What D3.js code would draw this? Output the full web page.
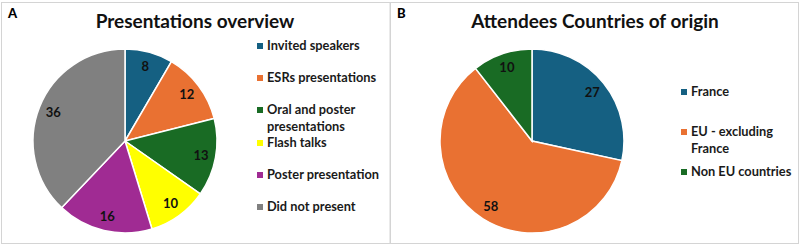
<!DOCTYPE html>
<html>
<head>
<meta charset="utf-8">
<script src="https://cdn.jsdelivr.net/npm/d3@7"></script>
<style>
  body { margin: 0; background: #fff; }
  svg { display: block; font-family: Lato, "Open Sans", sans-serif; }
</style>
</head>
<body>
<svg id="chart" width="800" height="246"></svg>
<script>
// panel A data
var presCategories = ["Invited speakers", "ESRs presentations", "Oral and poster presentations",
    "Flash talks", "Poster presentation", "Did not present"];
var presValues = [8, 12, 13, 10, 16, 36];
var presColors = ["#156082", "#E97132", "#196B24", "#FFFF00", "#A02B93", "#808080"];

// panel B data
var countryCategories = ["France", "EU - excluding France", "Non EU countries"];
var countryValues = [27, 58, 10];
var countryColors = ["#156082", "#E97132", "#196B24"];

var svg = d3.select("#chart");

// panel frames
svg.append("rect").attr("x", 1.5).attr("y", 2.5).attr("width", 388.5).attr("height", 241)
    .attr("fill", "none").attr("stroke", "#d4d4d4");
svg.append("rect").attr("x", 390.5).attr("y", 2.5).attr("width", 408).attr("height", 241)
    .attr("fill", "none").attr("stroke", "#d4d4d4");

function drawPanel(opt) {
    var g = svg.append("g");

    g.append("text").attr("x", opt.letterX).attr("y", 18)
        .attr("font-size", 13).attr("font-weight", "900").text(opt.letter);

    g.append("text").attr("x", opt.titleX).attr("y", 28)
        .attr("text-anchor", "middle").attr("font-size", 19).attr("font-weight", "bold")
        .attr("fill", "#111").text(opt.title);

    var pie = d3.pie().sort(null).value(function (d) { return d; });
    var arc = d3.arc().innerRadius(0).outerRadius(opt.r);
    var labelArc = d3.arc().innerRadius(opt.r * 0.84).outerRadius(opt.r * 0.84);
    var arcs = pie(opt.values);

    var pg = g.append("g").attr("transform", "translate(" + opt.cx + "," + opt.cy + ")");
    pg.selectAll("path").data(arcs).enter().append("path")
        .attr("d", arc)
        .attr("fill", function (d, i) { return opt.colors[i]; })
        .attr("stroke", "#fff").attr("stroke-width", 1.5);

    pg.selectAll("text").data(arcs).enter().append("text")
        .attr("transform", function (d) { return "translate(" + labelArc.centroid(d) + ")"; })
        .attr("text-anchor", "middle").attr("dy", "0.35em")
        .attr("font-size", 13).attr("font-weight", "bold").attr("fill", "#111")
        .text(function (d) { return d.data; });

    // legend
    var lg = g.append("g");
    opt.legendRows.forEach(function (lines, i) {
        var y = opt.legendY[i];
        lg.append("rect").attr("x", opt.legendX).attr("y", y - 3)
            .attr("width", 6).attr("height", 6).attr("fill", opt.colors[i]);
        lines.forEach(function (line, j) {
            lg.append("text").attr("x", opt.legendX + 10).attr("y", y + j * 16.5)
                .attr("dy", "0.35em").attr("font-size", 12.8).attr("font-weight", "bold")
                .attr("fill", "#1a1a1a").text(line);
        });
    });
}

drawPanel({
    letter: "A", letterX: 8, title: "Presentations overview", titleX: 195,
    cx: 125, cy: 141, r: 92,
    values: presValues, colors: presColors,
    legendX: 257, legendY: [46, 78, 110, 143, 175, 207],
    legendRows: [["Invited speakers"], ["ESRs presentations"], ["Oral and poster", "presentations"],
        ["Flash talks"], ["Poster presentation"], ["Did not present"]]
});

drawPanel({
    letter: "B", letterX: 397, title: "Attendees Countries of origin", titleX: 595,
    cx: 532, cy: 141, r: 92,
    values: countryValues, colors: countryColors,
    legendX: 681, legendY: [92, 132, 172],
    legendRows: [["France"], ["EU - excluding", "France"], ["Non EU countries"]]
});
</script>
</body>
</html>
